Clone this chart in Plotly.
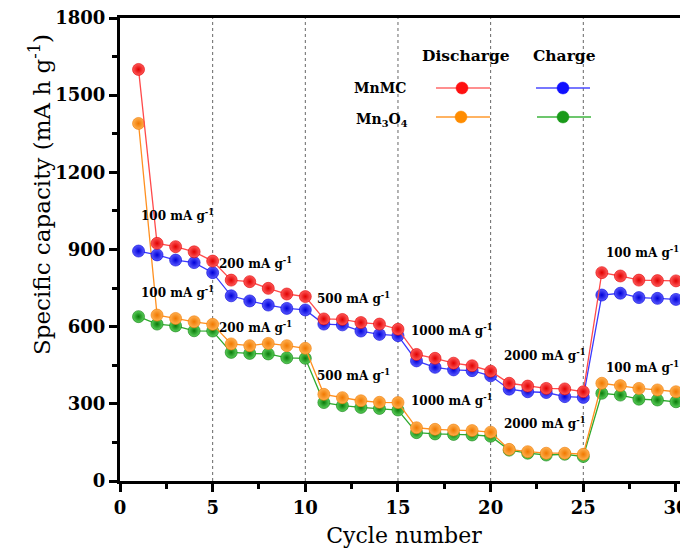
import plotly.graph_objects as go

cycles = list(range(1, 31))
mnmc_discharge = [1600, 924, 911, 891, 855, 781, 775, 749, 727, 717,
                  630, 628, 616, 610, 590, 492, 477, 458, 448, 427,
                  380, 369, 360, 358, 347, 810, 797, 781, 779, 778]
mnmc_charge = [894, 879, 859, 849, 810, 720, 700, 684, 671, 665,
               610, 607, 583, 570, 565, 467, 442, 432, 429, 409,
               357, 347, 344, 328, 325, 723, 730, 713, 710, 706]
mn3o4_discharge = [1390, 645, 632, 619, 609, 533, 526, 535, 526, 516,
                   337, 324, 312, 306, 305, 207, 201, 198, 196, 190,
                   123, 114, 108, 108, 104, 380, 371, 360, 354, 347]
mn3o4_charge = [639, 610, 603, 584, 583, 500, 496, 494, 479, 477,
                305, 293, 286, 282, 276, 188, 183, 181, 179, 174,
                120, 108, 101, 104, 95, 341, 334, 318, 315, 308]

rate_labels = ["100", "200", "500", "1000", "2000", "100"]
rate_x = [3.1, 7.3, 12.6, 17.9, 22.9, 28.2]
rate_y_mnmc = [1034, 848, 711, 587, 490, 890]
rate_y_mn3o4 = [735, 599, 412, 315, 225, 443]
boundaries = [5, 10, 15, 20, 25]

FONT = "DejaVu Serif"

series = [
    ("Mn3O4 charge", mn3o4_charge, "#2eaa2e", "#5ad05a", "#0a7a0a"),
    ("Mn3O4 discharge", mn3o4_discharge, "#ff9020", "#ffb050", "#f07800"),
    ("MnMC charge", mnmc_charge, "#3a3aff", "#5a5aff", "#0000d8"),
    ("MnMC discharge", mnmc_discharge, "#ff4a4a", "#ff5a5a", "#e00000"),
]

fig = go.Figure()
for name, vals, lc, mc, gc in series:
    fig.add_trace(go.Scatter(
        x=cycles, y=vals, name=name, mode="lines+markers",
        line=dict(color=lc, width=1.3),
        marker=dict(size=12, color=mc,
                    gradient=dict(type="radial", color=gc),
                    line=dict(width=0.6, color=gc)),
        showlegend=False,
    ))

shapes = []
for b in boundaries:
    shapes.append(dict(type="line", xref="x", yref="y", x0=b, x1=b, y0=0, y1=1800,
                       line=dict(color="#666666", width=1, dash="dot"), layer="below"))

# manual legend (page is offset by the 8px body margin)
W, H = 568.0, 463.0
def px(xp):
    return (xp - 120) / W
def py(yp):
    return (481 - yp) / H

legend_items = [
    (436, 490, 462, 88, "#ff6a6a", "#ff1010"),
    (536, 590, 563, 88, "#4a4aff", "#1010ff"),
    (436, 490, 461, 117, "#ff9a2e", "#ff8c00"),
    (537, 591, 563, 117, "#3cb43c", "#1a9a1a"),
]
for x0, x1, xm, yy, lc, mc in legend_items:
    shapes.append(dict(type="line", xref="paper", yref="paper",
                       x0=px(x0), x1=px(x1), y0=py(yy), y1=py(yy),
                       line=dict(color=lc, width=1.3)))
    shapes.append(dict(type="circle", xref="paper", yref="paper",
                       xsizemode="pixel", ysizemode="pixel",
                       xanchor=px(xm), yanchor=py(yy),
                       x0=-6, x1=6, y0=-6, y1=6,
                       fillcolor=mc, line=dict(color=mc, width=0.5)))

annotations = []
for lab, xx, yu, yl in zip(rate_labels, rate_x, rate_y_mnmc, rate_y_mn3o4):
    for yy in (yu, yl):
        annotations.append(dict(x=xx, y=yy, xref="x", yref="y", showarrow=False,
                                xanchor="center", yanchor="middle",
                                text=f"<b>{lab} mA g<sup>-1</sup></b>",
                                font=dict(family=FONT, size=12, color="black")))

annotations += [
    dict(x=px(512), y=py(55), xref="paper", yref="paper", showarrow=False, xanchor="right",
         yanchor="middle", text="<b>Discharge</b>", font=dict(family=FONT, size=15.5, color="black")),
    dict(x=px(531), y=py(55), xref="paper", yref="paper", showarrow=False, xanchor="left",
         yanchor="middle", text="<b>Charge</b>", font=dict(family=FONT, size=15.5, color="black")),
    dict(x=px(380), y=py(88), xref="paper", yref="paper", showarrow=False, xanchor="center",
         yanchor="middle", text="<b>MnMC</b>", font=dict(family=FONT, size=14, color="black")),
    dict(x=px(382), y=py(120), xref="paper", yref="paper", showarrow=False, xanchor="center",
         yanchor="middle", text="<b>Mn<sub>3</sub>O<sub>4</sub></b>", font=dict(family=FONT, size=14, color="black")),
    dict(x=px(40), y=py(195), xref="paper", yref="paper", showarrow=False, textangle=-90,
         xanchor="center", yanchor="middle",
         text="Specific capacity (mA h g<sup>-1</sup>)", font=dict(family=FONT, size=23, color="black")),
]

fig.update_layout(
    width=680, height=548,
    margin=dict(l=112, r=0, t=10, b=75, autoexpand=False),
    paper_bgcolor="white", plot_bgcolor="white",
    shapes=shapes, annotations=annotations,
    font=dict(family=FONT, color="black"),
)
fig.update_xaxes(
    range=[0, 30.65], tickvals=[0, 5, 10, 15, 20, 25, 30], automargin=False,
    ticklabeloverflow="allow",
    showgrid=False, zeroline=False,
    showline=True, linewidth=3, linecolor="black", mirror=True,
    ticks="outside", ticklen=8, tickwidth=2.5, tickcolor="black",
    minor=dict(dtick=2.5, tick0=0, ticks="outside", ticklen=5, tickwidth=2.5, tickcolor="black", showgrid=False),
    tickfont=dict(family=FONT, size=18, color="black", weight="bold"),
    title=dict(text="Cycle number", font=dict(family=FONT, size=22, color="black"), standoff=12),
)
fig.update_yaxes(
    range=[0, 1800], tickvals=[0, 300, 600, 900, 1200, 1500, 1800], automargin=False,
    ticklabeloverflow="allow",
    showgrid=False, zeroline=False,
    showline=True, linewidth=3, linecolor="black", mirror=False,
    ticks="outside", ticklen=8, tickwidth=2.5, tickcolor="black",
    minor=dict(dtick=150, tick0=0, ticks="outside", ticklen=5, tickwidth=2.5, tickcolor="black", showgrid=False),
    tickfont=dict(family=FONT, size=18, color="black", weight="bold"),
)

fig.write_html("out.html")
